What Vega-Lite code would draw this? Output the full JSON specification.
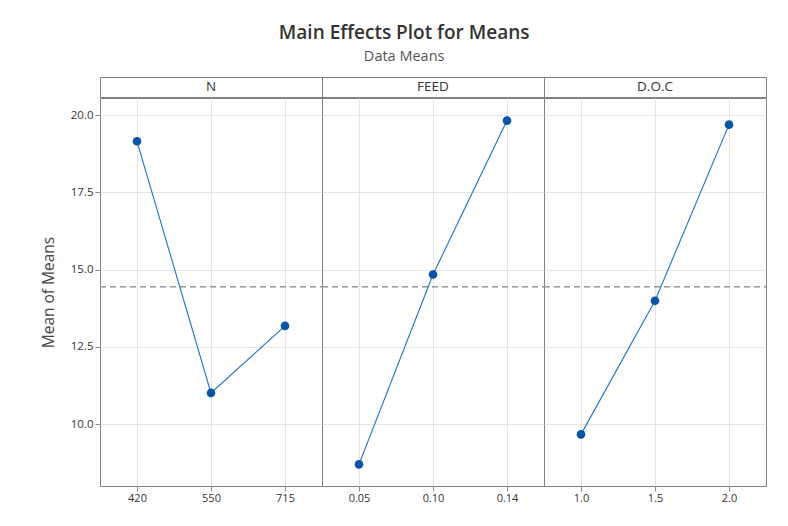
{
  "$schema": "https://vega.github.io/schema/vega-lite/v6.json",
  "padding": {"left": 41, "top": 24, "right": 20, "bottom": 10},
  "title": {
    "text": "Main Effects Plot for Means",
    "subtitle": "Data Means",
    "anchor": "middle",
    "fontSize": 19,
    "fontWeight": 600,
    "color": "#333333",
    "subtitleFontSize": 14.5,
    "subtitleColor": "#555555",
    "subtitlePadding": 7,
    "offset": 13
  },
  "datasets": {
    "main": [
      {"factor": "N", "level": "420", "value": 19.15},
      {"factor": "N", "level": "550", "value": 11.01},
      {"factor": "N", "level": "715", "value": 13.18},
      {"factor": "FEED", "level": "0.05", "value": 8.70},
      {"factor": "FEED", "level": "0.10", "value": 14.84},
      {"factor": "FEED", "level": "0.14", "value": 19.82},
      {"factor": "D.O.C", "level": "1.0", "value": 9.67},
      {"factor": "D.O.C", "level": "1.5", "value": 13.99},
      {"factor": "D.O.C", "level": "2.0", "value": 19.69}
    ],
    "factors": [
      {"factor": "N"},
      {"factor": "FEED"},
      {"factor": "D.O.C"}
    ]
  },
  "vconcat": [
    {
      "data": {"name": "factors"},
      "facet": {
        "column": {"field": "factor", "type": "nominal", "sort": ["N", "FEED", "D.O.C"], "header": {"title": null, "labels": false}}
      },
      "spacing": 0,
      "bounds": "flush",
      "spec": {
        "width": 222,
        "height": 20,
        "view": {"stroke": "#808080", "strokeWidth": 1},
        "mark": {"type": "text", "fontSize": 13.5, "color": "#333333", "baseline": "middle", "align": "center"},
        "encoding": {"text": {"field": "factor", "type": "nominal"}}
      }
    },
    {
      "data": {"name": "main"},
      "facet": {
        "column": {"field": "factor", "type": "nominal", "sort": ["N", "FEED", "D.O.C"], "header": {"title": null, "labels": false}}
      },
      "spacing": 0,
      "bounds": "flush",
      "resolve": {"scale": {"x": "independent"}},
      "spec": {
        "width": 222,
        "height": 388,
        "encoding": {
          "x": {
            "field": "level",
            "type": "ordinal",
            "scale": {"type": "point", "padding": 0.5},
            "axis": {"title": null, "labelAngle": 0, "grid": true, "labelFontSize": 11, "labelColor": "#333333", "tickColor": "#888888", "domain": false, "labelPadding": 1}
          },
          "y": {
            "field": "value",
            "type": "quantitative",
            "scale": {"domain": [8, 20.55], "nice": false, "zero": false},
            "axis": {"title": "Mean of Means", "values": [10, 12.5, 15, 17.5, 20], "format": ".1f", "grid": true, "labelFontSize": 11.5, "labelColor": "#333333", "titleFontSize": 15.5, "titleFontWeight": "normal", "titleColor": "#444444", "titlePadding": 14, "tickColor": "#888888", "domain": false}
          }
        },
        "layer": [
          {
            "mark": {"type": "rule", "color": "#9a9a9a", "strokeDash": [6, 4], "strokeWidth": 1.2},
            "encoding": {"x": {"value": 0}, "x2": {"value": "width"}, "y": {"datum": 14.45}}
          },
          {
            "mark": {"type": "line", "color": "#1f6fc9", "strokeWidth": 1.1}
          },
          {
            "mark": {"type": "point", "filled": true, "opacity": 1, "size": 75, "color": "#0a54a8"}
          }
        ]
      }
    }
  ],
  "spacing": -2,
  "config": {
    "font": "Open Sans",
    "view": {"stroke": "#808080", "strokeWidth": 1},
    "axis": {"gridColor": "#e4e4e4"}
  }
}
